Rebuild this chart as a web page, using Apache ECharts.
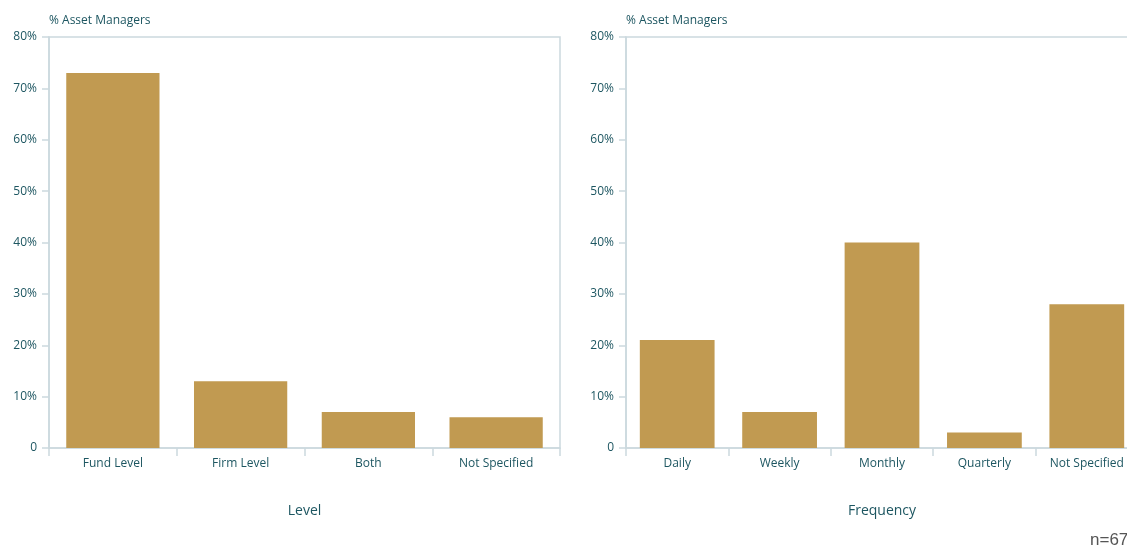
<!DOCTYPE html>
<html>
<head>
<meta charset="utf-8">
<script src="https://cdn.jsdelivr.net/npm/echarts@6/dist/echarts.min.js"></script>
<style>
  html, body { margin: 0; padding: 0; background: #fff; overflow: hidden; }
  #chart { width: 1140px; height: 549px; }
</style>
</head>
<body>
<div id="chart"></div>
<script>
// Share of asset managers, by reporting level and by frequency
const levelCategories = ['Fund Level', 'Firm Level', 'Both', 'Not Specified'];
const levelValues = [73, 13, 7, 6];
const frequencyCategories = ['Daily', 'Weekly', 'Monthly', 'Quarterly', 'Not Specified'];
const frequencyValues = [21, 7, 40, 3, 28];
const yTicks = [0, 10, 20, 30, 40, 50, 60, 70, 80];
const yAxisTitle = '% Asset Managers';
const xAxisTitles = ['Level', 'Frequency'];
const sampleNote = 'n=67';

const textColor = '#1d5661';
const lineColor = '#cbd9de';
const barColor = '#c19a51';
const fontFamily = '"Open Sans", "Noto Sans", sans-serif';

const chart = echarts.init(document.getElementById('chart'), null, { renderer: 'canvas' });

function yAxis(gridIndex) {
  return {
    type: 'value', gridIndex,
    min: yTicks[0], max: yTicks[yTicks.length - 1], interval: 10,
    name: yAxisTitle, nameLocation: 'end', nameGap: 10,
    nameTextStyle: { color: textColor, fontSize: 12, fontFamily, align: 'left' },
    axisLine: { show: true, lineStyle: { color: lineColor, width: 1.5 } },
    axisTick: { show: true, length: 7, lineStyle: { color: lineColor, width: 1.5 } },
    axisLabel: {
      color: textColor, fontSize: 12, fontFamily, margin: 12,
      formatter: v => v === 0 ? '0' : v + '%'
    },
    splitLine: { show: false }
  };
}

function xAxis(gridIndex, cats, title) {
  return {
    type: 'category', gridIndex, data: cats,
    name: title, nameLocation: 'middle', nameGap: 56,
    nameTextStyle: { color: textColor, fontSize: 14, fontFamily },
    axisLine: { show: true, lineStyle: { color: lineColor, width: 1.5 } },
    axisTick: { show: true, length: 8, lineStyle: { color: lineColor, width: 1.5 } },
    axisLabel: { color: textColor, fontSize: 12, fontFamily, margin: 10 }
  };
}

chart.setOption({
  animation: false,
  backgroundColor: '#ffffff',
  grid: [
    { left: 49, top: 37, width: 511, height: 411, show: true, borderColor: lineColor, borderWidth: 1.5, backgroundColor: 'transparent' },
    { left: 626, top: 37, width: 512, height: 411, show: true, borderColor: lineColor, borderWidth: 1.5, backgroundColor: 'transparent' }
  ],
  xAxis: [xAxis(0, levelCategories, xAxisTitles[0]), xAxis(1, frequencyCategories, xAxisTitles[1])],
  yAxis: [yAxis(0), yAxis(1)],
  series: [
    { type: 'bar', xAxisIndex: 0, yAxisIndex: 0, data: levelValues, barCategoryGap: '27%', itemStyle: { color: barColor } },
    { type: 'bar', xAxisIndex: 1, yAxisIndex: 1, data: frequencyValues, barCategoryGap: '27%', itemStyle: { color: barColor } }
  ],
  graphic: [
    { type: 'text', left: 1090, top: 532, style: { text: sampleNote, fill: '#555555', fontSize: 17, fontFamily: '"Liberation Sans", sans-serif' } }
  ]
});
</script>
</body>
</html>
